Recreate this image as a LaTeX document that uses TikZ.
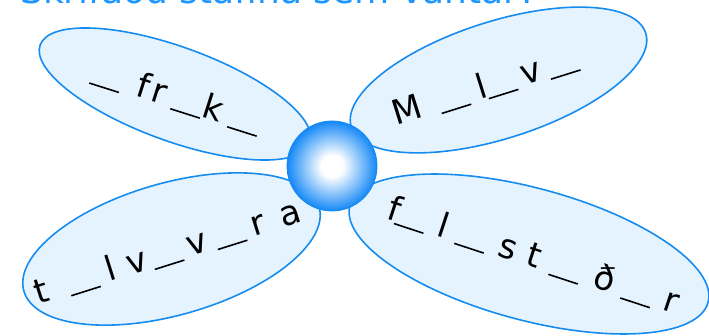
\documentclass[tikz,border=0pt]{standalone}
\usepackage{fontspec}
\setmainfont{DejaVu Sans}
\usetikzlibrary{shapes.geometric}

\definecolor{petalline}{RGB}{22,140,240}
\definecolor{petalfill}{RGB}{229,243,255}
\definecolor{ballblue}{RGB}{20,136,246}
\definecolor{titleblue}{RGB}{30,150,255}
\pgfdeclareradialshading{glassball}{\pgfpoint{0bp}{0bp}}{%
  color(0bp)=(white); color(6bp)=(white); color(25bp)=(ballblue); color(50bp)=(ballblue)}
\newcommand\gap{\rule[-2.5pt]{31pt}{1.6pt}}

\begin{document}
\begin{tikzpicture}[x=1pt, y=-1pt,
  petal/.style={draw=petalline, fill=petalfill, line width=1.6pt, ellipse,
                inner sep=0pt},
  word/.style={anchor=base, inner sep=0pt, font=\fontsize{34}{40}\selectfont},
  hub/.style={circle, draw=ballblue, line width=0.8pt, shading=glassball,
              minimum size=90pt, inner sep=0pt}
]
\clip (0,0) rectangle (709,336);
% title, cut off at the top
\node[anchor=base west, inner sep=0pt, text=titleblue,
      font=\fontsize{36}{40}\selectfont] (title) at (20,4) {Skrifaðu stafina sem vantar?};
% petals
\node[petal, minimum width=287pt, minimum height=94pt, rotate=-20] (pnw) at (175,94) {};
\node[petal, minimum width=309pt, minimum height=117pt, rotate=17.7] (pne) at (498.5,80) {};
\node[petal, minimum width=307pt, minimum height=132pt, rotate=15.9] (psw) at (171.5,249) {};
\node[petal, minimum width=371pt, minimum height=132pt, rotate=-15.1] (pse) at (529,254) {};
% words
\node[word, rotate=-17.6] (wnw) at (173.5,108)
  {\gap\hspace{16pt}f\hspace{4pt}r\hspace{8pt}\gap k\hspace{9pt}\gap};
\node[word, rotate=17.4] (wne) at (488.5,97)
  {M\hspace{17pt}\gap\hspace{10pt}l\hspace{-1pt}\gap\hspace{7pt}v\hspace{7pt}\gap};
\node[word, rotate=17.5] (wsw) at (171,262.5)
  {t\hspace{20pt}\gap\hspace{10pt}l\hspace{12pt}v\hspace{5pt}\gap\hspace{7pt}v\hspace{8pt}\gap\hspace{8pt}r\hspace{16pt}a};
\node[word, rotate=-18.2] (wse) at (530,266.5)
  {f\hspace{-2pt}\gap\hspace{12pt}l\hspace{11pt}\gap\hspace{13pt}s\hspace{12pt}t\hspace{12pt}\gap\hspace{14pt}ð\hspace{10pt}\gap\hspace{12pt}r};
% centre
\node[hub] (ball) at (332,166) {};
\end{tikzpicture}
\end{document}
